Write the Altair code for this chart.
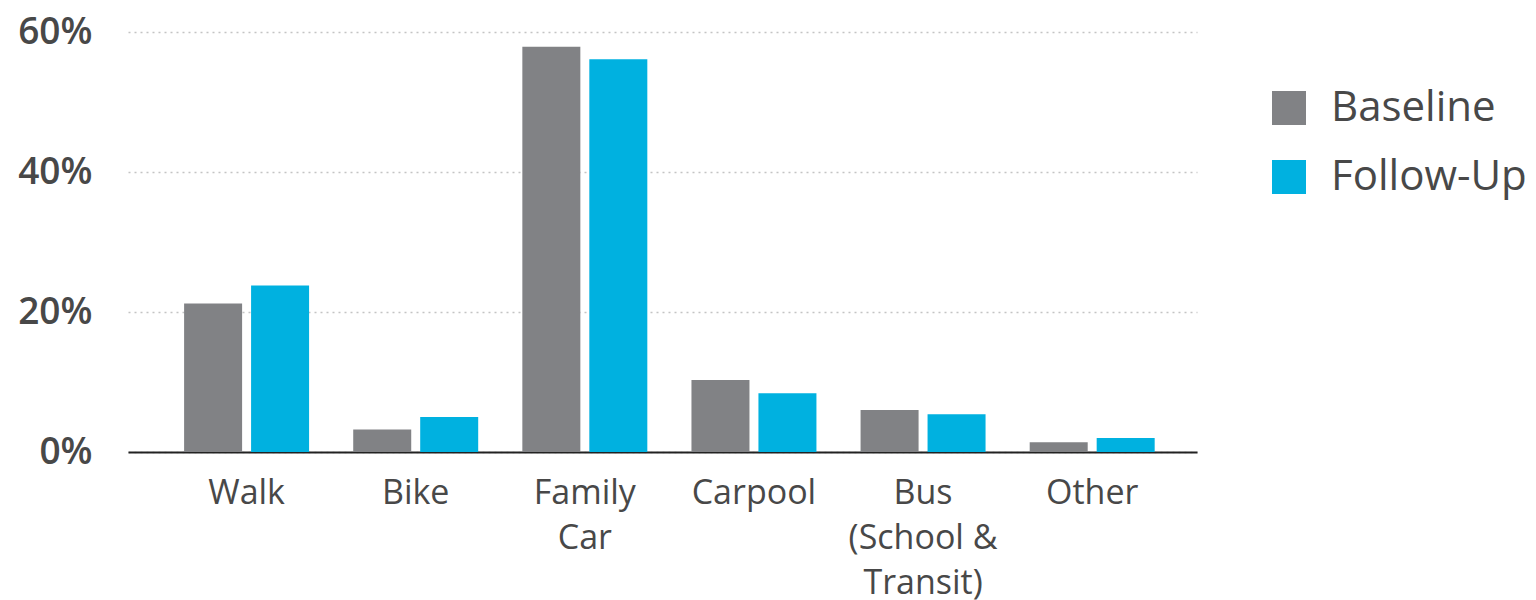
import altair as alt
import pandas as pd

categories = ["Walk", "Bike", "Family Car", "Carpool", "Bus (School & Transit)", "Other"]
tick_lines = [["Walk"], ["Bike"], ["Family", "Car"], ["Carpool"], ["Bus", "(School &", "Transit)"], ["Other"]]
series = ["Baseline", "Follow-Up"]
baseline = [21.2, 3.2, 57.9, 10.3, 6.0, 1.4]
follow_up = [23.8, 5.0, 56.1, 8.4, 5.4, 2.0]
colors = ["#818285", "#00b1e0"]

rows = []
for c, b, f in zip(categories, baseline, follow_up):
    rows.append({"mode": c, "series": "Baseline", "value": b / 100})
    rows.append({"mode": c, "series": "Follow-Up", "value": f / 100})
df = pd.DataFrame(rows)

expr = "datum.label"
for c, lines in zip(categories, tick_lines):
    if len(lines) > 1:
        arr = "[" + ",".join("'" + l + "'" for l in lines) + "]"
        expr = f"datum.value == '{c}' ? {arr} : ({expr})"

text_color = "#484848"
font = "Open Sans"

chart = alt.Chart(df).mark_bar().encode(
    x=alt.X("mode:N", sort=categories, title=None,
            scale=alt.Scale(paddingInner=0.261, paddingOuter=0.291, align=0.57),
            axis=alt.Axis(labelAngle=0, labelExpr=expr, labelFontSize=34,
                          labelLineHeight=45, labelPadding=24, labelColor=text_color,
                          labelFont=font, ticks=False, domainColor="#222222",
                          domainWidth=2, grid=False, labelBaseline="top")),
    xOffset=alt.XOffset("series:N", sort=series,
                        scale=alt.Scale(paddingInner=0.134, paddingOuter=0)),
    y=alt.Y("value:Q", title=None,
            scale=alt.Scale(domain=[0, 0.6], nice=False),
            axis=alt.Axis(values=[0, 0.2, 0.4, 0.6], format=".0%", labelFontSize=37,
                          labelFontWeight=600,
                          labelColor=text_color, labelFont=font, labelPadding=36,
                          ticks=False, domain=False, grid=True, gridColor="#c4c4c4",
                          gridDash=[2, 4], gridWidth=1.5)),
    color=alt.Color("series:N", sort=series,
                    scale=alt.Scale(domain=series, range=colors),
                    legend=alt.Legend(title=None, orient="none", legendX=1140, legendY=55,
                                      symbolType="square", symbolSize=1156,
                                      symbolStrokeWidth=0, labelFontSize=42,
                                      labelFont=font, labelColor=text_color,
                                      labelLimit=0, rowPadding=27, labelOffset=21)),
).properties(
    width=1069, height=420,
    autosize=alt.AutoSizeParams(type="none"),
    padding={"left": 120, "top": 24, "right": 331, "bottom": 150},
).configure_view(stroke=None)

chart.save("out.html", embed_options={"renderer": "svg", "actions": False})
